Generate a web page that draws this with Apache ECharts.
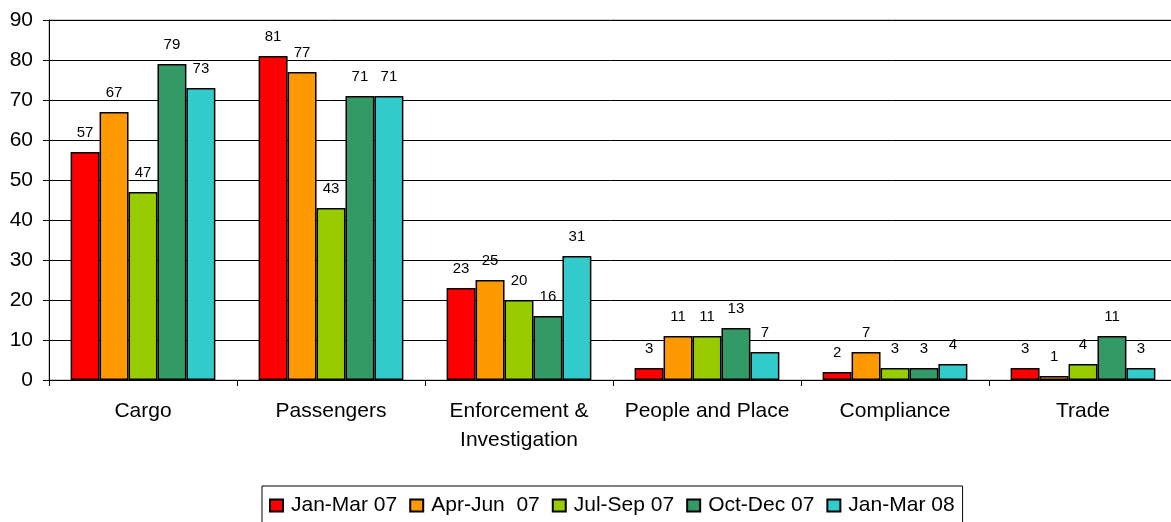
<!DOCTYPE html>
<html>
<head>
<meta charset="utf-8">
<script src="https://cdn.jsdelivr.net/npm/echarts@6/dist/echarts.min.js"></script>
<style>
html,body{margin:0;padding:0;background:#fff;}
#chart{width:1171px;height:522px;}
</style>
</head>
<body>
<div id="chart"></div>
<script>
var categories = ['Cargo', 'Passengers', 'Enforcement &\nInvestigation', 'People and Place', 'Compliance', 'Trade'];
var periods = ['Jan-Mar 07', 'Apr-Jun  07', 'Jul-Sep 07', 'Oct-Dec 07', 'Jan-Mar 08'];
var janMar07 = [57, 81, 23, 3, 2, 3];
var aprJun07 = [67, 77, 25, 11, 7, 1];
var julSep07 = [47, 43, 20, 11, 3, 4];
var octDec07 = [79, 71, 16, 13, 3, 11];
var janMar08 = [73, 71, 31, 7, 4, 3];
var yTicks = [0, 10, 20, 30, 40, 50, 60, 70, 80, 90];

var colors = ['#FF0000', '#FF9900', '#99CC00', '#339966', '#33CCCC'];
var values = [janMar07, aprJun07, julSep07, octDec07, janMar08];
var font = '"Liberation Sans", Arial, sans-serif';

var myChart = echarts.init(document.getElementById('chart'));

var series = [];
for (var i = 0; i < periods.length; i++) {
	series.push({
		name: periods[i],
		type: 'bar',
		data: values[i],
		barGap: '0%',
		barCategoryGap: '23%',
		itemStyle: {
			color: colors[i],
			borderColor: '#000',
			borderWidth: 1.5
		},
		label: {
			show: true,
			position: 'top',
			distance: 12,
			color: '#000',
			fontSize: 15,
			fontFamily: font
		}
	});
}

var option = {
	backgroundColor: '#fff',
	animation: false,
	color: colors,
	grid: {
		left: 49,
		top: 20,
		width: 1128,
		bottom: 142,
		show: true,
		borderColor: '#999',
		borderWidth: 1,
		containLabel: false,
		outerBoundsMode: 'none'
	},
	legend: {
		left: 262,
		top: 486,
		backgroundColor: '#fff',
		borderColor: '#000',
		borderWidth: 1,
		padding: [9, 8, 20, 7],
		itemWidth: 13,
		itemHeight: 12,
		itemGap: 12,
		icon: 'rect',
		textStyle: {
			color: '#000',
			fontSize: 21,
			fontFamily: font,
			padding: [0, 0, 0, 3]
		},
		data: periods
	},
	xAxis: {
		type: 'category',
		data: categories,
		axisLine: { lineStyle: { color: '#000', width: 1 } },
		axisTick: { show: true, alignWithLabel: false, length: 6, lineStyle: { color: '#000' } },
		axisLabel: {
			color: '#000',
			fontSize: 21,
			fontFamily: font,
			margin: 17,
			lineHeight: 29,
			interval: 0
		}
	},
	yAxis: {
		type: 'value',
		min: 0,
		max: 90,
		interval: 10,
		axisLine: { show: true, lineStyle: { color: '#000', width: 1 } },
		axisTick: { show: true, length: 6, lineStyle: { color: '#000' } },
		splitLine: { show: true, lineStyle: { color: '#000', width: 1 } },
		axisLabel: {
			color: '#000',
			fontSize: 21,
			fontFamily: font,
			margin: 16,
			formatter: function (v) {
				return yTicks.indexOf(v) >= 0 ? String(v) : '';
			}
		}
	},
	series: series
};

myChart.setOption(option);
</script>
</body>
</html>
